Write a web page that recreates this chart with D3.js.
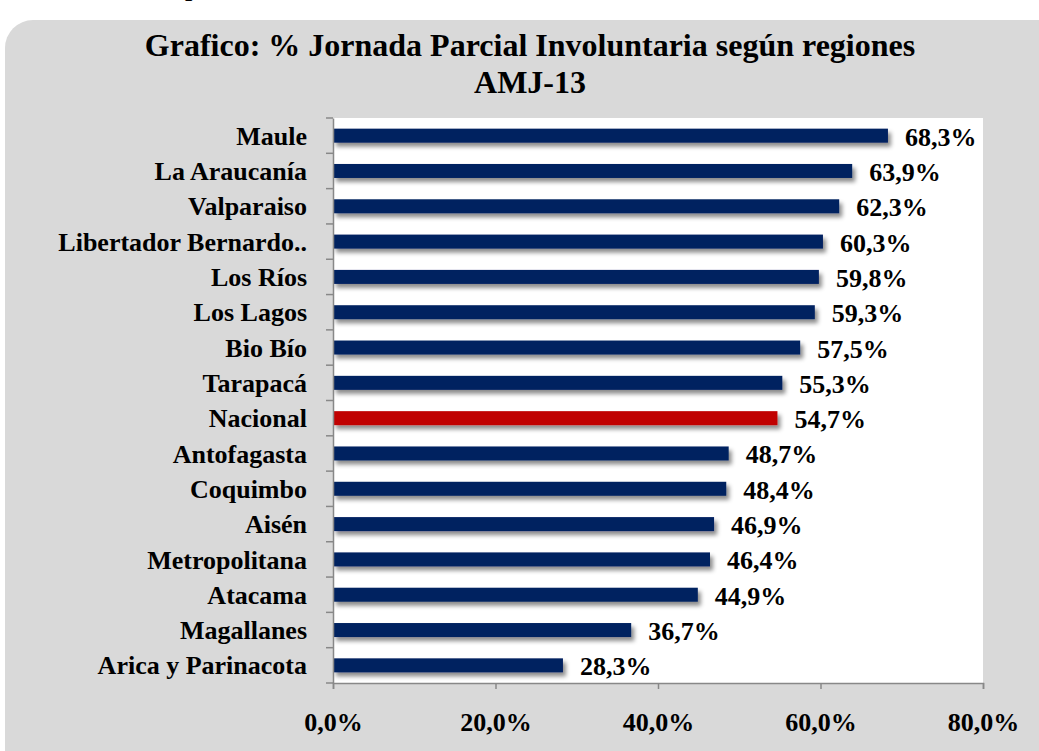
<!DOCTYPE html>
<html>
<head>
<meta charset="utf-8">
<script src="https://cdn.jsdelivr.net/npm/d3@7"></script>
<style>
  body { margin: 0; background: #fff; }
  text { font-family: "Liberation Serif", "Times New Roman", serif; font-weight: bold; fill: #000; }
</style>
</head>
<body>
<div id="chart"></div>
<script>
// data
var regions = ["Maule", "La Araucanía", "Valparaiso", "Libertador Bernardo..", "Los Ríos",
  "Los Lagos", "Bio Bío", "Tarapacá", "Nacional", "Antofagasta", "Coquimbo", "Aisén",
  "Metropolitana", "Atacama", "Magallanes", "Arica y Parinacota"];
var values = [68.3, 63.9, 62.3, 60.3, 59.8, 59.3, 57.5, 55.3, 54.7, 48.7, 48.4, 46.9,
  46.4, 44.9, 36.7, 28.3];
var xTicks = [0, 20, 40, 60, 80];
var highlight = "Nacional";

var svgWidth = 1039;
var svgHeight = 751;

var margin = { top: 118, right: 56, bottom: 68, left: 333 };
var chartWidth = svgWidth - margin.left - margin.right;
var chartHeight = svgHeight - margin.top - margin.bottom;

var svg = d3.select("#chart")
  .append("svg")
  .attr("width", svgWidth)
  .attr("height", svgHeight);

var defs = svg.append("defs");
defs.append("filter")
  .attr("id", "shadow")
  .attr("x", "-5%").attr("y", "-50%")
  .attr("width", "115%").attr("height", "250%")
  .append("feDropShadow")
  .attr("dx", 3).attr("dy", 4)
  .attr("stdDeviation", 2)
  .attr("flood-color", "#000")
  .attr("flood-opacity", 0.45);

// cut-off text from the page above
svg.append("text")
  .attr("x", 185).attr("y", -4)
  .style("font-size", "26px")
  .text("p");

// outer gray panel
svg.append("rect")
  .attr("x", 5).attr("y", 20)
  .attr("width", 1100).attr("height", 800)
  .attr("rx", 28).attr("ry", 28)
  .attr("fill", "#d9d9d9");

// title
svg.append("text")
  .attr("x", 530).attr("y", 56)
  .attr("text-anchor", "middle")
  .style("font-size", "32px")
  .text("Grafico: % Jornada Parcial Involuntaria según regiones");
svg.append("text")
  .attr("x", 530).attr("y", 93)
  .attr("text-anchor", "middle")
  .style("font-size", "32px")
  .text("AMJ-13");

var chartGroup = svg.append("g")
  .attr("transform", `translate(${margin.left},${margin.top})`);

chartGroup.append("rect")
  .attr("width", chartWidth)
  .attr("height", chartHeight)
  .attr("fill", "#fff");

var xScale = d3.scaleLinear()
  .domain([0, 80])
  .range([0, chartWidth]);

var yScale = d3.scaleBand()
  .domain(regions)
  .range([0, chartHeight]);

var barH = 14;

chartGroup.selectAll("rect.bar")
  .data(regions)
  .enter()
  .append("rect")
  .attr("class", "bar")
  .attr("x", 0)
  .attr("y", d => yScale(d) + yScale.bandwidth() / 2 - barH / 2)
  .attr("width", (d, i) => xScale(values[i]))
  .attr("height", barH)
  .attr("fill", d => d === highlight ? "#c00000" : "#002060")
  .attr("filter", "url(#shadow)");

chartGroup.selectAll("text.val")
  .data(regions)
  .enter()
  .append("text")
  .attr("class", "val")
  .attr("x", (d, i) => xScale(values[i]) + 17)
  .attr("y", d => yScale(d) + yScale.bandwidth() / 2 + 10)
  .style("font-size", "26px")
  .text((d, i) => values[i].toFixed(1).replace(".", ",") + "%");

// y axis
var leftAxis = d3.axisLeft(yScale).tickSize(0).tickPadding(26);
var yAxis = chartGroup.append("g").call(leftAxis);
yAxis.select(".domain").attr("stroke", "#888").attr("stroke-width", 1.5);
yAxis.selectAll(".tick text")
  .style("font-size", "26px")
  .attr("font-family", null)
  .attr("dy", "0.35em");

// category boundary ticks
chartGroup.selectAll("line.ytick")
  .data(d3.range(regions.length + 1))
  .enter()
  .append("line")
  .attr("class", "ytick")
  .attr("x1", -7).attr("x2", 0)
  .attr("y1", i => i * yScale.step())
  .attr("y2", i => i * yScale.step())
  .attr("stroke", "#888")
  .attr("stroke-width", 1.5);

// x axis
var bottomAxis = d3.axisBottom(xScale)
  .tickValues(xTicks)
  .tickSize(6)
  .tickPadding(24)
  .tickFormat(d => d.toFixed(1).replace(".", ",") + "%");
var xAxis = chartGroup.append("g")
  .attr("transform", `translate(0, ${chartHeight})`)
  .call(bottomAxis);
xAxis.select(".domain").attr("stroke", "#888").attr("stroke-width", 1.5);
xAxis.selectAll(".tick line").attr("stroke", "#888").attr("stroke-width", 1.5);
xAxis.selectAll(".tick text")
  .style("font-size", "26px")
  .attr("font-family", null);
</script>
</body>
</html>
